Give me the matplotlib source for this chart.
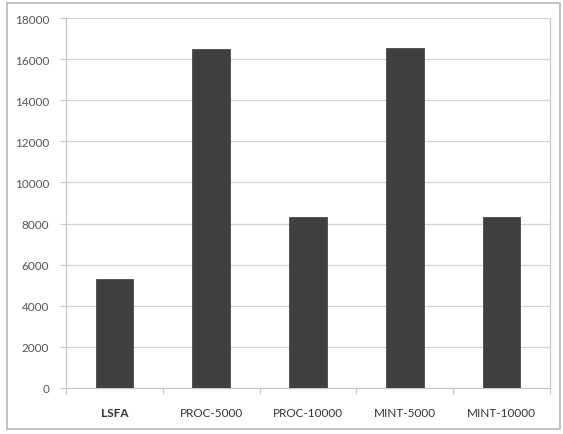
import matplotlib
matplotlib.use("Agg")
import matplotlib.pyplot as plt
from matplotlib.patches import Rectangle
from matplotlib.ticker import FixedLocator

categories = ["LSFA", "PROC-5000", "PROC-10000", "MINT-5000", "MINT-10000"]
values = [5300, 16500, 8300, 16550, 8300]
y_ticks = [0, 2000, 4000, 6000, 8000, 10000, 12000, 14000, 16000, 18000]

plt.rcParams["font.family"] = ["Lato", "DejaVu Sans"]

fig = plt.figure(figsize=(5.63, 4.35), dpi=100)
ax = fig.add_axes([66 / 563, 1 - 389 / 435, (550 - 66) / 563, (389 - 19) / 435])

x = list(range(len(categories)))
ax.bar(x, values, width=0.39, color="#404040", edgecolor="#383838", linewidth=0.5, zorder=3)

ax.set_xlim(-0.5, len(categories) - 0.5)
ax.set_ylim(0, 18000)
ax.set_yticks(y_ticks)
ax.set_yticklabels([str(v) for v in y_ticks], fontsize=8.5, color="#555555")
ax.yaxis.grid(True, color="#d4d4d4", linewidth=0.9, zorder=0)
ax.tick_params(axis="y", length=4, color="#c8c8c8", pad=8)

# category labels sit between boundary ticks
ax.xaxis.set_major_locator(FixedLocator([i - 0.5 for i in range(len(categories) + 1)]))
ax.set_xticklabels([""] * (len(categories) + 1))
ax.xaxis.set_minor_locator(FixedLocator(x))
ax.set_xticklabels(categories, minor=True, fontsize=8.5, color="#333333")
for lbl in ax.get_xticklabels(minor=True):
    if lbl.get_text() == "LSFA":
        lbl.set_fontweight("bold")
ax.tick_params(axis="x", which="major", length=4, color="#c8c8c8")
ax.tick_params(axis="x", which="minor", length=0, pad=14)

for side, sp in ax.spines.items():
    sp.set_color("#c8c8c8")
    sp.set_linewidth(0.9)
ax.spines["top"].set_visible(False)

# outer chart frame
fig.patches.append(Rectangle((7 / 563, 1 - 430 / 435), (560 - 7) / 563, (430 - 4) / 435,
                             transform=fig.transFigure, fill=False,
                             edgecolor="#b8b8b8", linewidth=1.2))

fig.savefig("out.png", dpi=100, facecolor="white")
